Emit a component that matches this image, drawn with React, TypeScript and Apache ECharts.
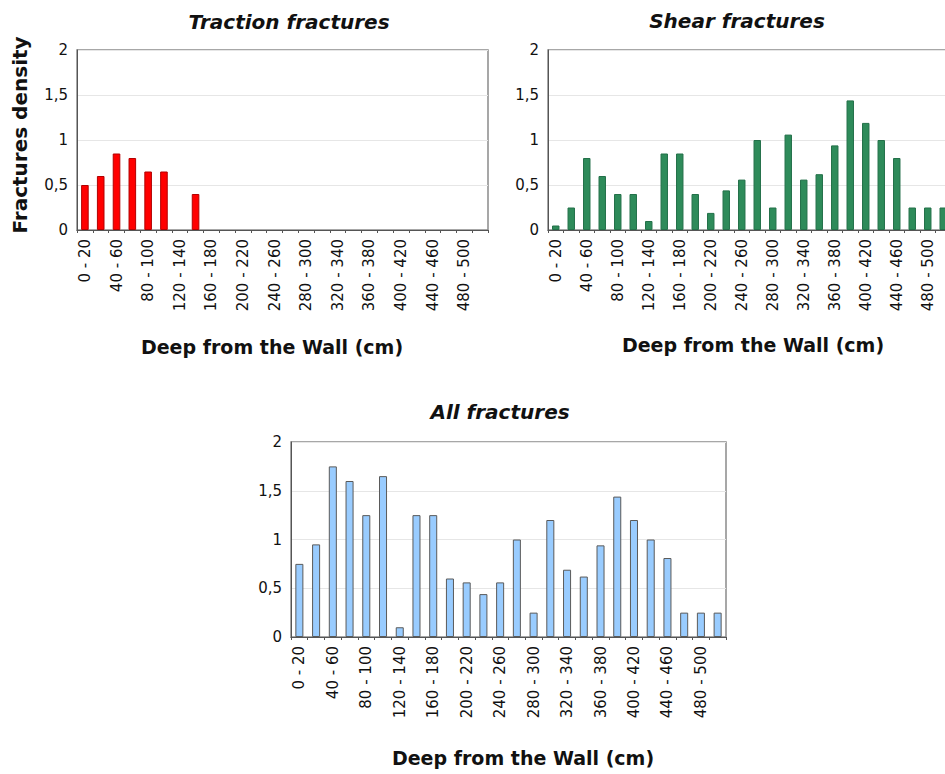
import React, { useEffect, useRef } from "react";
import * as echarts from "echarts";

const categories = [
  "0 - 20", "20 - 40", "40 - 60", "60 - 80", "80 - 100", "100 - 120", "120 - 140",
  "140 - 160", "160 - 180", "180 - 200", "200 - 220", "220 - 240", "240 - 260",
  "260 - 280", "280 - 300", "300 - 320", "320 - 340", "340 - 360", "360 - 380",
  "380 - 400", "400 - 420", "420 - 440", "440 - 460", "460 - 480", "480 - 500", "500 - 520",
];

const tractionValues = [
  0.5, 0.6, 0.85, 0.8, 0.65, 0.65, 0, 0.4, 0, 0, 0, 0, 0,
  0, 0, 0, 0, 0, 0, 0, 0, 0, 0, 0, 0, 0,
];

const shearValues = [
  0.05, 0.25, 0.8, 0.6, 0.4, 0.4, 0.1, 0.85, 0.85, 0.4, 0.19, 0.44, 0.56,
  1.0, 0.25, 1.06, 0.56, 0.62, 0.94, 1.44, 1.19, 1.0, 0.8, 0.25, 0.25, 0.25,
];

const allValues = [
  0.75, 0.95, 1.75, 1.6, 1.25, 1.65, 0.1, 1.25, 1.25, 0.6, 0.56, 0.44, 0.56,
  1.0, 0.25, 1.2, 0.69, 0.62, 0.94, 1.44, 1.2, 1.0, 0.81, 0.25, 0.25, 0.25,
];

const titles = ["Traction fractures", "Shear fractures", "All fractures"];
const xAxisTitle = "Deep from the Wall (cm)";
const yAxisTitle = "Fractures density";

const FONT = "DejaVu Sans";

export default function App() {
  const ref = useRef<HTMLDivElement>(null);

  useEffect(() => {
    if (!ref.current) return;
    const chart = echarts.init(ref.current, null, { renderer: "svg" });

    const grids = [
      { left: 77, top: 50, width: 411, height: 180 },
      { left: 548, top: 50, width: 403, height: 180 },
      { left: 291, top: 442, width: 435, height: 195 },
    ];

    const xAxes = grids.map((_, i) => ({
      type: "category",
      gridIndex: i,
      data: categories,
      boundaryGap: true,
      axisLine: { show: true, lineStyle: { color: "#555", width: 1 } },
      axisTick: { show: true, interval: 0, length: 3, lineStyle: { color: "#555" } },
      axisLabel: {
        interval: 1,
        rotate: 90,
        margin: 9,
        fontSize: 15,
        fontFamily: FONT,
        color: "#111",
      },
      splitLine: { show: false },
    }));

    const yAxes = grids.map((_, i) => ({
      type: "value",
      gridIndex: i,
      min: 0,
      max: 2,
      interval: 0.5,
      axisLine: { show: true, lineStyle: { color: "#555", width: 1 } },
      axisTick: { show: false },
      axisLabel: {
        margin: 9,
        fontSize: 15,
        fontFamily: FONT,
        color: "#111",
        formatter: (v: number) => String(v).replace(".", ","),
      },
      splitLine: { show: true, lineStyle: { color: "#e6e6e6", width: 1 } },
    }));

    const barStyles = [
      { color: "#ff0000", borderColor: "#b30000", borderWidth: 1 },
      { color: "#2e8b5a", borderColor: "#237049", borderWidth: 1 },
      { color: "#99ccff", borderColor: "#5a5a5a", borderWidth: 1 },
    ];
    const dataSets = [tractionValues, shearValues, allValues];

    const series = dataSets.map((d, i) => ({
      type: "bar",
      xAxisIndex: i,
      yAxisIndex: i,
      data: d.map((v) => (v === 0 ? { value: 0, itemStyle: { borderWidth: 0, opacity: 0 } } : v)),
      barWidth: "48%",
      itemStyle: barStyles[i],
      silent: true,
    }));

    const titleStyle = {
      fontFamily: FONT,
      fontSize: 20,
      fontWeight: "bold",
      fontStyle: "italic",
      fill: "#111",
      align: "center",
      verticalAlign: "middle",
    };
    const nameStyle = {
      fontFamily: FONT,
      fontSize: 19,
      fontWeight: "bold",
      fill: "#111",
      align: "center",
      verticalAlign: "middle",
    };

    chart.setOption({
      animation: false,
      backgroundColor: "#ffffff",
      grid: grids.map((g) => ({
        ...g,
        show: true,
        borderColor: "#8a8a8a",
        borderWidth: 1.5,
        backgroundColor: "transparent",
        containLabel: false,
        outerBoundsMode: "none",
      })),
      xAxis: xAxes,
      yAxis: yAxes,
      series,
      graphic: [
        { type: "text", x: 289, y: 22, style: { ...titleStyle, text: titles[0] } },
        { type: "text", x: 737, y: 21, style: { ...titleStyle, text: titles[1] } },
        { type: "text", x: 500, y: 412, style: { ...titleStyle, text: titles[2] } },
        { type: "text", x: 272, y: 347, style: { ...nameStyle, text: xAxisTitle } },
        { type: "text", x: 753, y: 345, style: { ...nameStyle, text: xAxisTitle } },
        { type: "text", x: 523, y: 758, style: { ...nameStyle, text: xAxisTitle } },
        {
          type: "text",
          x: 20,
          y: 135,
          rotation: Math.PI / 2,
          style: { ...nameStyle, fontSize: 20, text: yAxisTitle },
        },
      ],
    });

    return () => chart.dispose();
  }, []);

  return (
    <div
      ref={ref}
      style={{ position: "absolute", left: 0, top: 0, width: 945, height: 774, overflow: "hidden" }}
    />
  );
}
